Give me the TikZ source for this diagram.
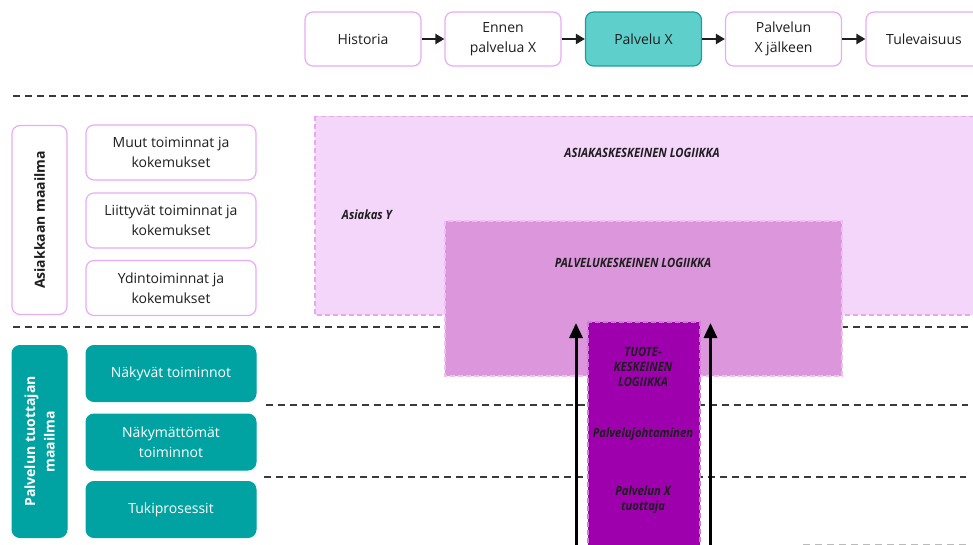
\documentclass[tikz,border=0pt]{standalone}
\usepackage{fontspec}
\setmainfont{Open Sans}
\newfontfamily\lblfont{Open Sans}[FakeStretch=0.88]
\usetikzlibrary{arrows.meta}

\definecolor{pinkline}{HTML}{E9AAF6}
\definecolor{teal}{HTML}{00A3A2}
\definecolor{tealpale}{HTML}{5FCFCB}
\definecolor{tealedge}{HTML}{1A9E9C}
\definecolor{txt}{HTML}{1E1E1E}
\definecolor{sepgray}{HTML}{3A3A3A}
\definecolor{lilac}{HTML}{F4D6FB}
\definecolor{lilacedge}{HTML}{EBA6F3}
\definecolor{orchid}{HTML}{DC96DC}
\definecolor{orchidedge}{HTML}{F0BEF0}
\definecolor{purple}{HTML}{9E00AE}
\definecolor{purpleedge}{HTML}{D27ADA}

\begin{document}
\begin{tikzpicture}[x=1pt,y=-1pt,
  stage/.style={draw=pinkline, line width=1.2pt, fill=white, rounded corners=8pt,
    minimum width=116pt, minimum height=54pt, inner sep=0pt, align=center,
    text=txt, font=\fontsize{14}{19.5}\selectfont},
  flowarrow/.style={-{Triangle[length=9pt,width=10pt]}, line width=2.4pt, draw=txt},
  sepline/.style={draw=sepgray, line width=1.4pt, dash pattern=on 7pt off 5pt},
  pinkbox/.style={draw=pinkline, line width=1.2pt, fill=white, rounded corners=8pt,
    minimum width=170pt, minimum height=55pt, inner sep=0pt, align=center,
    text=txt, font=\fontsize{14}{19.5}\selectfont},
  tealbox/.style={draw=teal, line width=1pt, fill=teal, rounded corners=8pt,
    minimum width=170pt, minimum height=56pt, inner sep=0pt, align=center,
    text=white, font=\fontsize{14}{19.5}\selectfont},
  worldpink/.style={pinkbox, minimum width=189pt, minimum height=55pt, rotate=90,
    font=\fontsize{14}{19.5}\selectfont\bfseries},
  worldteal/.style={tealbox, minimum width=192pt, minimum height=55pt, rotate=90,
    font=\fontsize{14}{19.5}\selectfont\bfseries},
  zonelabel/.style={inner sep=0pt, align=center, text=txt,
    font=\lblfont\fontsize{12.8}{15}\selectfont\bfseries\itshape},
  uparrow/.style={-{Triangle[length=15pt,width=13pt]}, line width=3pt, draw=black}
]
\useasboundingbox (0,0) rectangle (973,545);

% timeline of the service
\node[stage] (hist) at (363,39) {Historia};
\node[stage] (before) at (503,39) {Ennen\\palvelua X};
\node[stage, fill=tealpale, draw=tealedge] (serv) at (643.5,39) {Palvelu X};
\node[stage] (after) at (783.5,39) {Palvelun\\X jälkeen};
\node[stage] (future) at (924,39) {Tulevaisuus};
\draw[flowarrow] (hist.east) -- (before.west);
\draw[flowarrow] (before.east) -- (serv.west);
\draw[flowarrow] (serv.east) -- (after.west);
\draw[flowarrow] (after.east) -- (future.west);

% separators between the layers
\coordinate (s1a) at (13,96);  \coordinate (s1b) at (973,96);
\coordinate (s2a) at (13,327); \coordinate (s2b) at (973,327);
\coordinate (s3a) at (266,405); \coordinate (s3b) at (968,405);
\coordinate (s4a) at (264,477); \coordinate (s4b) at (966,477);
\coordinate (s5a) at (803,544.5); \coordinate (s5b) at (966,544.5);
\draw[sepline] (s1a) -- (s1b);
\draw[sepline] (s2a) -- (s2b);
\draw[sepline] (s3a) -- (s3b);
\draw[sepline] (s4a) -- (s4b);
\draw[sepline, draw=sepgray!35] (s5a) -- (s5b);

% customer world
\node[worldpink] (cworld) at (39.5,220) {Asiakkaan maailma};
\node[pinkbox] (other) at (171,152.5) {Muut toiminnat ja\\kokemukset};
\node[pinkbox] (related) at (171,220.5) {Liittyvät toiminnat ja\\kokemukset};
\node[pinkbox] (core) at (171,288) {Ydintoiminnat ja\\kokemukset};

% provider world
\node[worldteal] (pworld) at (39.5,441.5) {Palvelun tuottajan\\maailma};
\node[tealbox] (visible) at (171,373.5) {Näkyvät toiminnot};
\node[tealbox] (hidden) at (171,442) {Näkymättömät\\toiminnot};
\node[tealbox] (support) at (171,509.5) {Tukiprosessit};

% nested logic zones
\path[fill=lilac, draw=lilacedge, line width=1.2pt, dash pattern=on 5pt off 3pt]
  (315,116.5) rectangle (990,315);
\path[fill=orchid, draw=orchidedge, line width=1.2pt, dash pattern=on 5pt off 3pt]
  (445,221) rectangle (842,376);
\path[fill=purple, draw=purpleedge, line width=1.2pt, dash pattern=on 5pt off 3pt]
  (588,322) rectangle (700,560);

\node[zonelabel] (clogic) at (642,153) {ASIAKASKESKEINEN LOGIIKKA};
\node[zonelabel] (cust) at (367,215) {Asiakas Y};
\node[zonelabel] (slogic) at (633,263) {PALVELUKESKEINEN LOGIIKKA};
\node[zonelabel] (plogic) at (643,367) {TUOTE-\\KESKEINEN\\LOGIIKKA};
\node[zonelabel] (mgmt) at (643,434.5) {Palvelujohtaminen};
\node[zonelabel] (prod) at (643,499.5) {Palvelun X\\tuottaja};

% upward arrows beside the product column
\coordinate (la) at (576,560); \coordinate (lb) at (576,323);
\coordinate (ra) at (710.5,560); \coordinate (rb) at (710.5,323);
\draw[uparrow] (la) -- (lb);
\draw[uparrow] (ra) -- (rb);
\end{tikzpicture}
\end{document}
